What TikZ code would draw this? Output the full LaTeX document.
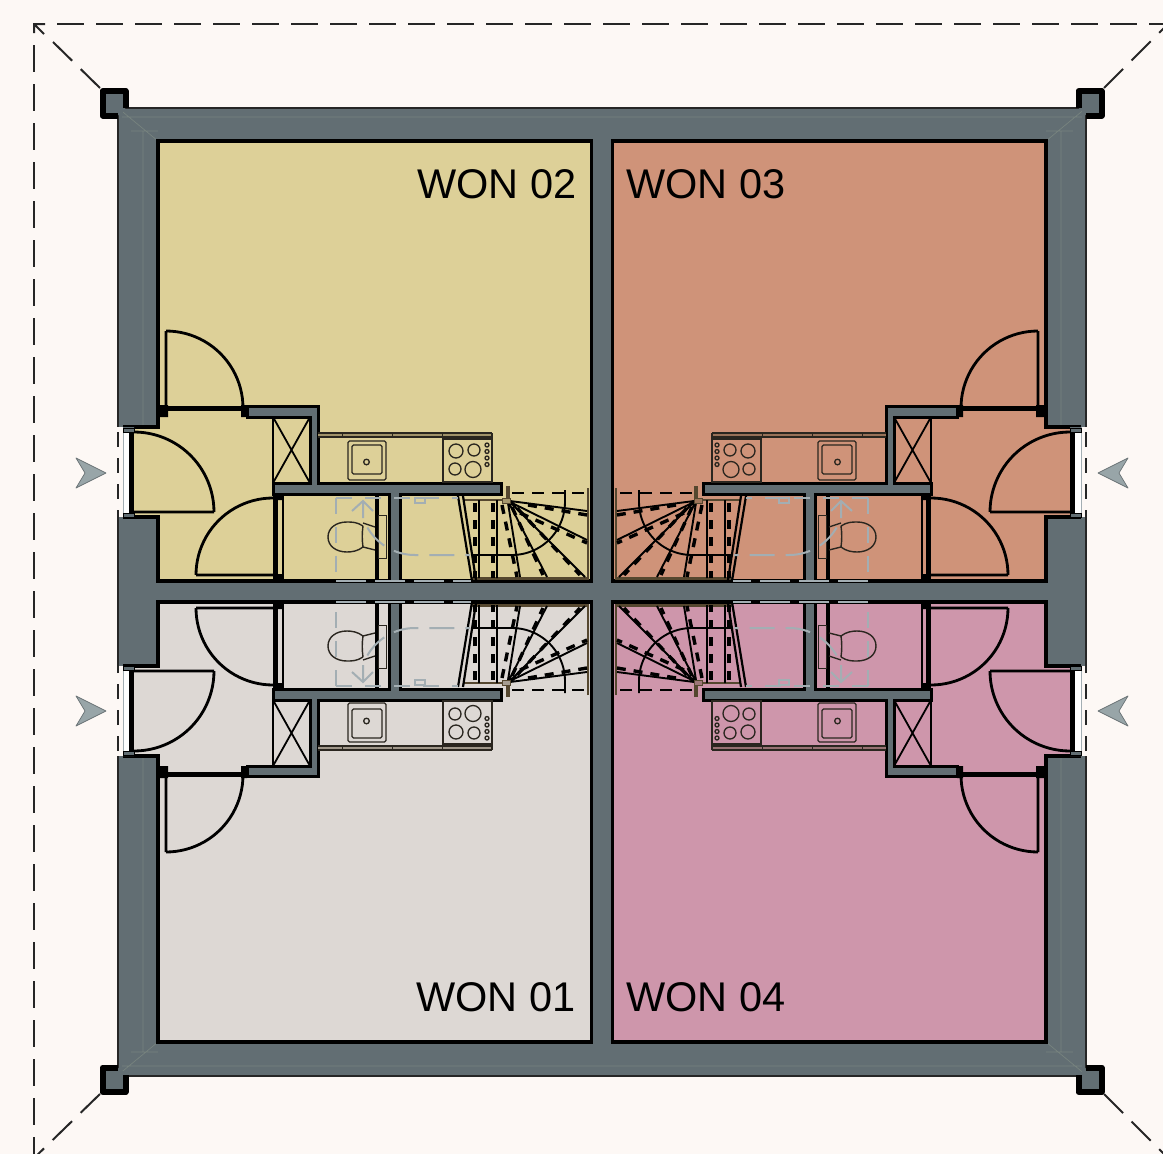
\documentclass[tikz,border=0pt]{standalone}
\usepackage{fontspec}
\setmainfont{Liberation Sans}
\definecolor{bgc}{HTML}{FDF8F5}
\definecolor{wallc}{HTML}{626E73}
\definecolor{mitre}{HTML}{77837F}
\definecolor{yel}{HTML}{DDD098}
\definecolor{ora}{HTML}{CF9379}
\definecolor{gry}{HTML}{DDD8D4}
\definecolor{pnk}{HTML}{CE96AB}
\definecolor{over}{HTML}{A3AEB3}
\definecolor{brn}{HTML}{55472F}
\definecolor{fit}{HTML}{2A261F}
\definecolor{arr}{HTML}{98A5A8}
\tikzset{
  x=1pt,y=-1pt,
  edge/.style={line width=3.4pt,black,line join=miter},
  wallpart/.style={fill=wallc,draw=black,line width=3pt,line join=miter},
  leaf/.style={line width=2.8pt,black,line join=round},
  frame/.style={line width=5pt,black},
  jamb/.style={fill=black},
  thinfit/.style={line width=1.2pt,fit},
  stairsolid/.style={line width=1.9pt,black},
  stairdash/.style={line width=3.4pt,black,dash pattern=on 9pt off 8pt},
  stairedge/.style={line width=3pt,brn},
  overhead/.style={line width=2pt,over,dash pattern=on 16pt off 13pt},
  overheadsolid/.style={line width=2pt,over},
  sitedash/.style={line width=2pt,black!85,dash pattern=on 27pt off 12pt},
  entry/.style={fill=arr,draw=arr!70!black,line width=.7pt,line join=round},
  room label/.style={font=\fontsize{41.5}{41.5}\selectfont,inner sep=0pt,black},
  faint/.style={line width=.7pt,mitre}
}
\newcommand\quadrant[1]{%
  % faint wall lines and corner column
  \draw[faint] (118,108)--(158,141) (122,117)--(602,117) (131,131)--(158,131) (143,131)--(143,427);
  \draw[line width=6pt,black,fill=wallc,line join=round] (118,115.5)--(102.5,115.5)--(102.5,91)--(125.5,91)--(125.5,108);
  \fill[wallc] (106,94)rectangle(122.5,112.5);
  % room
  \fill[#1] (158,141)--(591.5,141)--(591.5,581)--(158,581)--(158,517)--(133,517)--(133,427)--(158,427)--cycle;
  \fill[bgc] (117,427)rectangle(124,517);
  \fill[white] (123,432)rectangle(131,513);
  \draw[line width=.8pt,over] (123,427)--(123,517);
  \draw[sitedash,dash pattern=on 15pt off 11pt,line width=1.6pt] (118,432)--(118,517);
  \draw[edge] (123,427)--(158,427)--(158,141)--(591.5,141)--(591.5,581)--(158,581)--(158,517)--(123,517);
  % entrance door
  \fill[wallc] (123,427)rectangle(134,432) (123,513)rectangle(134,517);
  \draw[line width=1pt,black] (123,428)rectangle(134,432) (123,513)rectangle(134,517);
  \draw[frame] (131.5,432)--(131.5,513);
  \draw[leaf] (214,512)--(134,512) (134,432) plot[domain=-90:0,samples=25] ({134+80*cos(\x)},{512+80*sin(\x)});
  % partitions
  \draw[wallpart] (247,406.5)--(318,406.5)--(318,483)--(501,483)--(501,494)--(400,494)--(400,581)--(389,581)--(389,494)--(273,494)--(273,483)--(310,483)--(310,417)--(247,417)--cycle;
  % room door
  \draw[frame] (162,408.5)--(247,408.5);
  \fill[jamb] (158,405)rectangle(168,417) (241,405)rectangle(247,417);
  \draw[leaf] (166,410)--(166,331) plot[domain=-90:0,samples=25] ({166+77*cos(\x)},{408+77*sin(\x)});
  % closet
  \draw[line width=1.8pt,black] (273,417)--(273,483) (273,417)--(310,483) (310,417)--(273,483);
  % wc door
  \draw[frame] (275.5,495)--(275.5,581);
  \fill[jamb] (277,494)rectangle(283,500) (277,574)rectangle(283,581);
  \draw[line width=2pt,black] (282.5,494)--(282.5,581);
  \draw[leaf] (276,575)--(196,575) plot[domain=180:270,samples=25] ({273+77*cos(\x)},{575+77*sin(\x)});
  % wc
  \draw[line width=4pt,black] (376.5,494)--(376.5,581);
  \draw[thinfit,line width=1pt] (378,515)rectangle(386,558);
  \draw[thinfit,line width=1.4pt] (363,526) .. controls (357,522) and (352,522) .. (347,522) .. controls (336,522) and (328,528) .. (328,537) .. controls (328,546) and (336,552) .. (347,552) .. controls (352,552) and (358,551) .. (363,547) .. controls (362,540) and (362,533) .. (363,526);
  \draw[thinfit,line width=1.4pt] (363,523)--(375,527) (363,547)--(375,550);
  % kitchen
  \fill[brn!45!#1] (318,433)rectangle(492,437);
  \draw[thinfit] (318,433)--(492,433) (318,437)--(492,437) (492,433)--(492,483);
  \draw[thinfit,line width=.6pt] (342,433)--(342,437) (392,433)--(392,437) (442,433)--(442,437);
  \draw[thinfit,rounded corners=1.5pt] (348,441)rectangle(386,480);
  \draw[thinfit,rounded corners=1.5pt] (352,445)rectangle(382,474);
  \draw[thinfit,line width=1.3pt] (366.5,462) circle[radius=2.8];
  \draw[thinfit] (443,439)rectangle(492,482);
  \draw[thinfit,line width=1.3pt] (456,451) circle[radius=7] (474,450) circle[radius=6] (455,469) circle[radius=6] (473,469.5) circle[radius=8]
     (487,445) circle[radius=2] (487,451.5) circle[radius=2] (487,458) circle[radius=2] (487,464.5) circle[radius=2];
  % stair
  \draw[stairedge,line width=2.8pt] (463,500)--(502,500);
  \draw[stairedge] (472,578)--(589,578);
  \draw[stairedge,line width=2.4pt] (588,488)--(588,578);
  \draw[line width=2.2pt,black] (458,496)--(472,581) (463,496)--(476,580);
  \draw[stairsolid] (479,500)--(479,578) (497,500)--(497,578)
    (510,501)--(587,511) (510,502)--(587,540) (510,502)--(585,577) (509,503)--(547,577) (508,503)--(520,577)
    (565,490)--(565,502) (472,555)--(512,555);
  \draw[stairsolid] plot[domain=0:90,samples=25] ({512+53*cos(\x)},{502+53*sin(\x)});
  \draw[stairdash] (475,503)--(475,578);
  \draw[stairdash] (493,503)--(493,578);
  \draw[stairdash] (502,505)--(517,577);
  \draw[stairdash] (512,507)--(543,575);
  \draw[stairdash] (517,508)--(580,575);
  \draw[stairdash] (528,505)--(587,515);
  \draw[stairdash] (520,513)--(587,543);
  \draw[stairdash,line width=2.8pt,dash pattern=on 12pt off 8pt] (512,493)--(587,493);
  \fill[brn] (506,486)rectangle(510,500);
  \draw[line width=1pt,brn,fill=#1!60!brn] (502,498)rectangle(510,503);
  % overhead line
  \draw[overhead] (336,497.5)--(458,497.5);
  \draw[overhead] (336,497.5)--(336,581);
  \draw[overhead,dash pattern=on 30pt off 9pt] (336,581)--(471,581);
  \draw[overheadsolid,line width=1.4pt] (415,498)rectangle(425,503);
  \draw[overheadsolid] (363,518)--(363,501) (352,511)--(363,501)--(373,511);
  \draw[overhead,dash pattern=on 25pt off 11pt] plot[domain=150:90,samples=25] ({415+55*cos(\x)},{500+55*sin(\x)}) -- (470,555);
}
\begin{document}
\begin{tikzpicture}
\clip (0,0) rectangle (1163,1154);
\fill[bgc] (0,0) rectangle (1163,1154);
% site boundary
\draw[sitedash] (57,24)--(1163,24);
\draw[sitedash] (34,45)--(34,1154);
\draw[line width=2pt,black!85] (45,24)--(34,24)--(34,33) (34,24)--(44,34);
\draw[sitedash] (100,88)--(53,42);
\draw[sitedash] (100,1094)--(30,1162);
\draw[sitedash] (1104,88)--(1172,20);
\draw[sitedash] (1104,1094)--(1172,1162);
% walls
\fill[wallc] (118,108) rectangle (1086,1076);
\draw[line width=1.8pt,black!85] (118,108) rectangle (1086,1076);
% four dwellings
\begin{scope}\quadrant{yel}\end{scope}
\begin{scope}[xshift=1204pt,xscale=-1]\quadrant{ora}\end{scope}
\begin{scope}[yshift=-1183pt,yscale=-1]\quadrant{gry}\end{scope}
\begin{scope}[xshift=1204pt,xscale=-1,yshift=-1183pt,yscale=-1]\quadrant{pnk}\end{scope}
% labels
\node[room label] (won2) at (497,184) {WON 02};
\node[room label] (won3) at (706,184) {WON 03};
\node[room label] (won1) at (496,997) {WON 01};
\node[room label] (won4) at (706,997) {WON 04};
% entrance arrows
\draw[entry] (76,458)--(106,473)--(76,488)--(85,473)--cycle;
\draw[entry] (76,696)--(106,711)--(76,726)--(85,711)--cycle;
\draw[entry] (1128,458)--(1098,473)--(1128,488)--(1119,473)--cycle;
\draw[entry] (1128,696)--(1098,711)--(1128,726)--(1119,711)--cycle;
\end{tikzpicture}
\end{document}
